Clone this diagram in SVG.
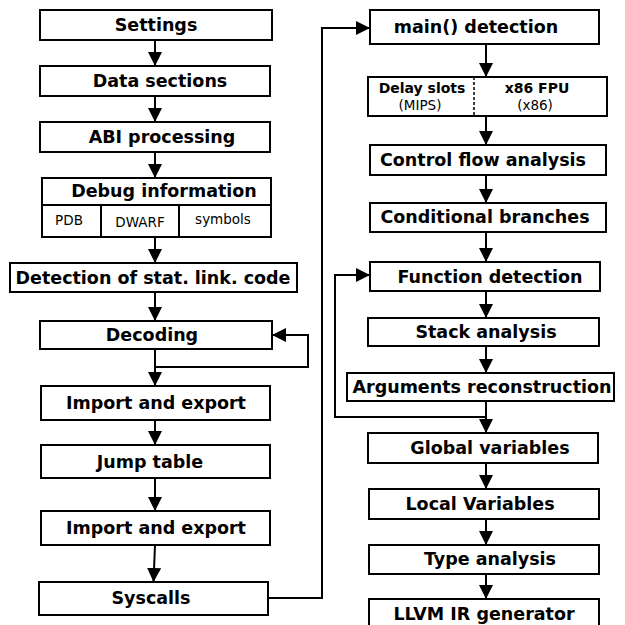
<svg xmlns="http://www.w3.org/2000/svg" width="625" height="625" viewBox="0 0 625 625">
<defs>
<marker id="ah" markerUnits="userSpaceOnUse" markerWidth="14" markerHeight="14" refX="12" refY="6" orient="auto" viewBox="0 0 12 12">
<path d="M0,0 L12,6 L0,12 Z" fill="#000"/>
</marker>
<style>
rect{fill:#fff;stroke:#000;stroke-width:2}
.t{font-family:"DejaVu Sans","Liberation Sans",sans-serif;font-weight:bold;font-size:17.5px;text-anchor:middle;fill:#000}
.s{font-family:"DejaVu Sans","Liberation Sans",sans-serif;font-size:13.5px;text-anchor:middle;fill:#000}
.sb{font-family:"DejaVu Sans","Liberation Sans",sans-serif;font-weight:bold;font-size:14px;text-anchor:middle;fill:#000}
.c{fill:none;stroke:#000;stroke-width:2;marker-end:url(#ah)}
.l{fill:none;stroke:#000;stroke-width:2}
</style>
</defs>
<rect x="0" y="0" width="625" height="625" style="fill:#fff;stroke:none"/>
<g id="connectors">
<path class="c" d="M155,40 V66"/>
<path class="c" d="M155,96 V122"/>
<path class="c" d="M155,152 V178"/>
<path class="c" d="M155,237 V263"/>
<path class="c" d="M155,292 V321"/>
<path class="c" d="M155,349 V386"/>
<path class="c" d="M155,367 H308 V335 H272"/>
<path class="c" d="M155,420 V445"/>
<path class="c" d="M155,478 V511"/>
<path class="c" d="M155,545 L153.5,582"/>
<path class="c" d="M268,598 H322 V28 H370"/>
<path class="c" d="M486,44 V77"/>
<path class="c" d="M486,116 V145"/>
<path class="c" d="M486,175 V203"/>
<path class="c" d="M486,232 V262"/>
<path class="c" d="M486,291 V318"/>
<path class="c" d="M486,346 V373"/>
<path class="c" d="M486,401 V433"/>
<path class="c" d="M486,417 H335 V275 H370"/>
<path class="c" d="M486,463 V489"/>
<path class="c" d="M486,519 V545"/>
<path class="c" d="M486,574 V599"/>
</g>
<g id="settings"><rect x="40" y="10" width="232" height="30"/><text class="t" x="156" y="31">Settings</text></g>
<g id="data-sections"><rect x="40" y="66" width="230" height="30"/><text class="t" x="160" y="87">Data sections</text></g>
<g id="abi-processing"><rect x="40" y="122" width="230" height="30"/><text class="t" x="162" y="143">ABI processing</text></g>
<g id="debug-information">
<rect x="42" y="178" width="229" height="59"/>
<line class="l" x1="42" y1="205" x2="271" y2="205"/>
<line class="l" x1="101" y1="205" x2="101" y2="237"/>
<line class="l" x1="179" y1="205" x2="179" y2="237"/>
<text class="t" x="164" y="197">Debug information</text>
<text class="s" x="69" y="225">PDB</text>
<text class="s" x="140" y="227">DWARF</text>
<text class="s" x="223" y="224">symbols</text>
</g>
<g id="static-link"><rect x="10" y="263" width="287" height="29"/><text class="t" x="153" y="284">Detection of stat. link. code</text></g>
<g id="decoding"><rect x="40" y="321" width="232" height="28"/><text class="t" x="152" y="341">Decoding</text></g>
<g id="import-export-1"><rect x="41" y="386" width="229" height="34"/><text class="t" x="156" y="409">Import and export</text></g>
<g id="jump-table"><rect x="41" y="445" width="229" height="33"/><text class="t" x="150" y="468">Jump table</text></g>
<g id="import-export-2"><rect x="41" y="511" width="229" height="34"/><text class="t" x="156" y="534">Import and export</text></g>
<g id="syscalls"><rect x="39" y="582" width="229" height="33"/><text class="t" x="151" y="604">Syscalls</text></g>
<g id="main-detection"><rect x="370" y="10" width="229" height="34"/><text class="t" x="476" y="33">main() detection</text></g>
<g id="delay-fpu">
<rect x="368" y="77" width="239" height="39"/>
<line x1="474" y1="77" x2="474" y2="116" stroke="#000" stroke-width="1.5" stroke-dasharray="3,2"/>
<text class="sb" x="422" y="93">Delay slots</text>
<text class="s" x="420" y="110">(MIPS)</text>
<text class="sb" x="537" y="93">x86 FPU</text>
<text class="s" x="535" y="110">(x86)</text>
</g>
<g id="control-flow"><rect x="370" y="145" width="236" height="30"/><text class="t" x="483" y="166">Control flow analysis</text></g>
<g id="conditional-branches"><rect x="370" y="203" width="236" height="29"/><text class="t" x="485" y="223">Conditional branches</text></g>
<g id="function-detection"><rect x="370" y="262" width="230" height="29"/><text class="t" x="490" y="283">Function detection</text></g>
<g id="stack-analysis"><rect x="368" y="318" width="231" height="28"/><text class="t" x="486" y="338">Stack analysis</text></g>
<g id="arguments-reconstruction"><rect x="347" y="373" width="267" height="28"/><text class="t" x="482" y="393">Arguments reconstruction</text></g>
<g id="global-variables"><rect x="368" y="433" width="230" height="30"/><text class="t" x="490" y="454">Global variables</text></g>
<g id="local-variables"><rect x="369" y="489" width="230" height="30"/><text class="t" x="480" y="510">Local Variables</text></g>
<g id="type-analysis"><rect x="369" y="545" width="230" height="29"/><text class="t" x="490" y="565">Type analysis</text></g>
<g id="llvm-ir"><rect x="369" y="599" width="230" height="34"/><text class="t" x="484" y="620">LLVM IR generator</text></g>
</svg>
